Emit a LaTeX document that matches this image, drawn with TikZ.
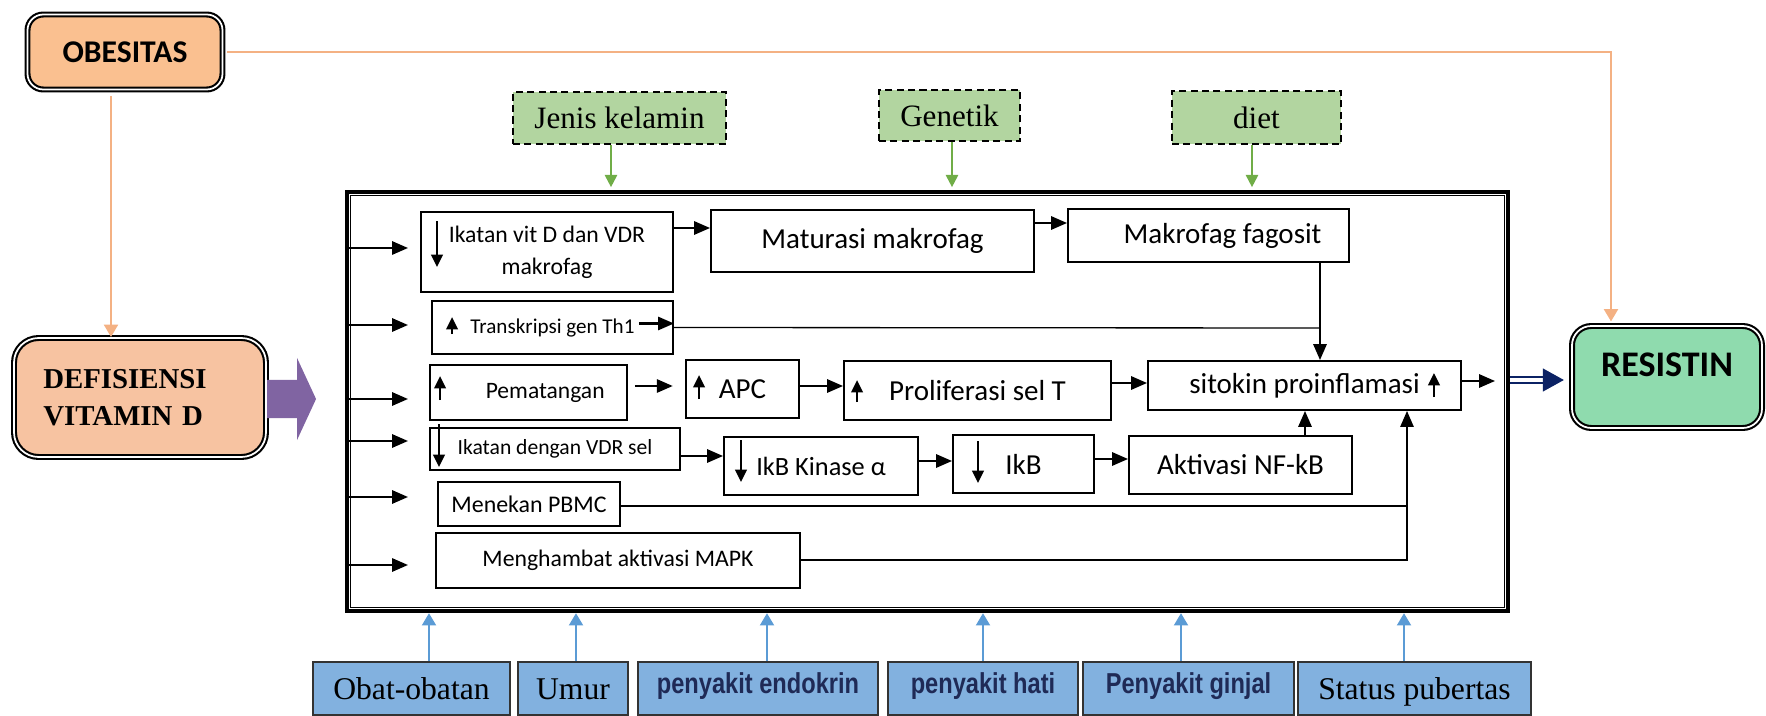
\documentclass[tikz,border=0pt]{standalone}
\usepackage{fontspec}
\setmainfont{Carlito}
\newfontfamily\tnr{Liberation Serif}
\newfontfamily\sanssempit[FakeStretch=0.82]{Liberation Sans}
\usetikzlibrary{arrows.meta,calc}

\definecolor{oranye}{HTML}{FAC090}
\definecolor{oranyemuda}{HTML}{F7C3A1}
\definecolor{garisoranye}{HTML}{F4B183}
\definecolor{ungu}{HTML}{8064A2}
\definecolor{hijaumuda}{HTML}{B2D5A0}
\definecolor{hijautua}{HTML}{70AD47}
\definecolor{mint}{HTML}{8FDBAE}
\definecolor{birumuda}{HTML}{82B1DF}
\definecolor{birugaris}{HTML}{5B9BD5}
\definecolor{navy}{HTML}{1F2A56}
\definecolor{navytua}{HTML}{0B2264}

\tikzset{
  ukuran/.style 2 args={minimum width=#1*\px, minimum height=#2*\px},
  kotak/.style={draw, line width=1.1pt, fill=white, inner sep=0pt, align=center,
    font=\fontsize{16.5}{20}\selectfont},
  bulat/.style={draw, line width=1.2pt, double=white, double distance=1pt,
    rounded corners=9pt, inner sep=0pt, align=center},
  faktor/.style={draw, dash pattern=on 4pt off 2.5pt, line width=1pt, fill=hijaumuda,
    inner sep=0pt, font=\tnr\fontsize{17.7}{20}\selectfont},
  bawah/.style={draw=black!80, line width=0.9pt, fill=birumuda, inner sep=0pt,
    text height=12pt, text depth=0pt, font=\tnr\fontsize{18}{20}\selectfont},
  bawahtebal/.style={bawah, text=navy, text height=12pt, text depth=6pt,
    font=\sanssempit\bfseries\fontsize{16.4}{18}\selectfont},
  panah/.style={line width=1.2pt, -{Triangle[length=9pt,width=7.5pt]}},
  kecil/.style={line width=1.4pt, -{Triangle[length=7pt,width=6.5pt]}},
  garis/.style={line width=0.75pt},
  oren/.style={draw=garisoranye, line width=1.1pt, -{Triangle[length=7pt,width=8pt]}},
  hijau/.style={draw=hijautua, line width=1.1pt, -{Triangle[length=7pt,width=7pt]}},
  biru/.style={draw=birugaris, line width=1.1pt, -{Triangle[length=7pt,width=8pt]}},
  dobel/.style={draw=navytua, line width=1pt, double=white, double distance=2pt,
    -{Triangle[length=12pt,width=13pt]}}
}

\begin{document}
\begin{tikzpicture}[x=0.02cm, y=-0.02cm]
\def\px{0.02cm}
\useasboundingbox (0,0) rectangle (1766,716);

% faktor utama
\node[bulat, fill=oranye, ukuran={195}{75}, font=\bfseries\fontsize{18}{20}\selectfont] (obesitas) at (125,52) {OBESITAS};
\node[bulat, fill=oranyemuda, rounded corners=14pt, ukuran={252}{119}, text width=110pt, inner xsep=16.4pt, align=left,
  font=\tnr\bfseries\fontsize{16.4}{21}\selectfont] (defisiensi) at (140,397.5) {DEFISIENSI\\VITAMIN D};
\node[bulat, fill=mint, rounded corners=11pt, ukuran={190}{102}, text height=14pt, text depth=15pt,
  font=\bfseries\fontsize{20.5}{24}\selectfont] (resistin) at (1667,377) {RESISTIN};

% faktor atas
\node[faktor, ukuran={213}{52}] (jenis) at (619.5,118) {Jenis kelamin};
\node[faktor, ukuran={141}{51}] (genetik) at (949.5,115.5) {Genetik};
\node[faktor, ukuran={169}{53}] (diet) at (1256.5,117.5) {diet};

% bingkai mekanisme
\node[draw, line width=2.5pt, ukuran={1161}{419}] (bingkai) at (927.5,401.5) {};
\draw[line width=0.7pt] ([shift={(3.4pt,3.4pt)}]bingkai.south west) rectangle ([shift={(-3.4pt,-3.4pt)}]bingkai.north east);

% isi bingkai
\node[kotak, ukuran={252}{80}, font=\fontsize{13.5}{18}\selectfont] (vitd) at (547,252) {Ikatan vit D dan VDR\\makrofag};
\node[kotak, ukuran={323}{62}] (maturasi) at (872.5,241) {Maturasi makrofag};
\node[kotak, ukuran={281}{53}] (fagosit) at (1208.5,235.5) {\hspace*{16pt}Makrofag fagosit};
\node[kotak, ukuran={241}{53}, font=\fontsize{12}{14}\selectfont] (th1) at (552.5,327.5) {Transkripsi gen Th1};
\node[kotak, ukuran={197}{55}, font=\fontsize{13.4}{16}\selectfont] (pematangan) at (528.5,392.5) {\hspace*{19pt}Pematangan};
\node[kotak, ukuran={113}{58}] (apc) at (742.5,389) {APC};
\node[kotak, ukuran={267}{59}] (proliferasi) at (977.5,390.5) {Proliferasi sel T};
\node[kotak, ukuran={313}{49}] (sitokin) at (1304.5,385.5) {sitokin proinflamasi};
\node[kotak, ukuran={250}{42}, font=\fontsize{12.3}{15}\selectfont] (ikatanvdr) at (555,449) {Ikatan dengan VDR sel};
\node[kotak, ukuran={194}{58}, font=\fontsize{15}{18}\selectfont] (ikbk) at (821,466) {IkB Kinase α};
\node[kotak, ukuran={141}{58}] (ikb) at (1023.5,464) {IkB};
\node[kotak, ukuran={223}{58}] (nfkb) at (1240.5,465) {Aktivasi NF-kB};
\node[kotak, ukuran={182}{44}, font=\fontsize{13.6}{16}\selectfont] (pbmc) at (529,504) {Menekan PBMC};
\node[kotak, ukuran={364}{55}, font=\fontsize{13.5}{16}\selectfont] (mapk) at (618,560.5) {Menghambat aktivasi MAPK};

% faktor bawah
\node[bawah, ukuran={197}{53}] (obat) at (411.5,688.5) {Obat-obatan};
\node[bawah, ukuran={110}{53}] (umur) at (573,688.5) {Umur};
\node[bawahtebal, ukuran={240}{53}] (endokrin) at (758,688.5) {penyakit endokrin};
\node[bawahtebal, ukuran={190}{53}] (hati) at (983,688.5) {penyakit hati};
\node[bawahtebal, ukuran={211}{53}] (ginjal) at (1188.5,688.5) {Penyakit ginjal};
\node[bawah, ukuran={233}{53}] (pubertas) at (1414.5,688.5) {Status pubertas};

% panah naik / turun di dalam kotak
\draw[kecil] ($(vitd.north west)+(17,10)$) -- ++(0,46);
\draw[kecil] ($(th1.north west)+(21,34)$) -- ++(0,-17);
\draw[kecil] ($(pematangan.north west)+(11,36)$) -- ++(0,-24);
\draw[kecil] ($(apc.north west)+(14,40)$) -- ++(0,-24);
\draw[kecil] ($(proliferasi.north west)+(14,42)$) -- ++(0,-22);
\draw[kecil] ($(sitokin.north east)+(-28,37)$) -- ++(0,-24);
\draw[kecil] ($(ikatanvdr.north west)+(10,-3)$) -- ++(0,43);
\draw[kecil] ($(ikbk.north west)+(18,4)$) -- ++(0,42);
\draw[kecil] ($(ikb.north west)+(26,7)$) -- ++(0,42);

% panah masuk dari kiri
\foreach \y in {248,325,399,441,497,565}
  \draw[panah] (bingkai.west |- 0,\y) -- (408,\y);

% alur di dalam bingkai
\coordinate (gabung) at (1320,328);
\coordinate (simpul) at (1407,560);
\coordinate (keluar) at (1495,381);
\draw[panah] (vitd.east |- 0,228) -- (maturasi.west |- 0,228);
\draw[panah] (maturasi.east |- 0,223) -- (fagosit.west |- 0,223);
\draw[panah] (fagosit.south -| gabung) -- (sitokin.north -| gabung);
\draw[panah] ($(th1.east)+(-35,-4)$) -- ++(35,0);
\draw[garis] (th1.east) -- (gabung);
\draw[panah, shorten <=4pt, shorten >=7pt] (pematangan.east |- 0,386) -- (apc.west |- 0,386);
\draw[panah] (apc.east |- 0,386) -- (proliferasi.west |- 0,386);
\draw[panah] (proliferasi.east |- 0,383) -- (sitokin.west |- 0,383);
\draw[panah] (sitokin.east |- keluar) -- (keluar);
\draw[panah] (ikatanvdr.east |- 0,456) -- (ikbk.west |- 0,456);
\draw[panah] (ikbk.east |- 0,461) -- (ikb.west |- 0,461);
\draw[panah] (ikb.east |- 0,459) -- (nfkb.west |- 0,459);
\draw[panah] (nfkb.north -| 1305,0) -- (sitokin.south -| 1305,0);
\draw[garis] (pbmc.east |- 0,506) -- (simpul |- 0,506);
\draw[panah, line width=1pt] (mapk.east |- simpul) -- (simpul) -- (sitokin.south -| simpul);

% hubungan luar
\draw[oren, shorten <=2pt, shorten >=2pt] (obesitas.east) -| (resistin.north -| 1611,0);
\draw[oren, shorten <=3pt] (obesitas.south -| 111,0) -- (defisiensi.north -| 111,0);
\fill[ungu] (defisiensi.east |- 0,380) -- ++(30,0) -- ++(0,-22) -- ++(19,41) -- ++(-19,41) -- ++(0,-22) -- ++(-30,0) -- cycle;
\draw[dobel, shorten >=4pt] (bingkai.east |- 0,380) -- (resistin.west |- 0,380);
\foreach \n/\x in {jenis/611, genetik/952, diet/1252}
  \draw[hijau, shorten >=1.5pt] (\n.south -| \x,0) -- (bingkai.north -| \x,0);
\foreach \n/\x in {obat/429, umur/576, endokrin/767, hati/983, ginjal/1181, pubertas/1404}
  \draw[biru] (\n.north -| \x,0) -- (bingkai.south -| \x,0);

\end{tikzpicture}
\end{document}
